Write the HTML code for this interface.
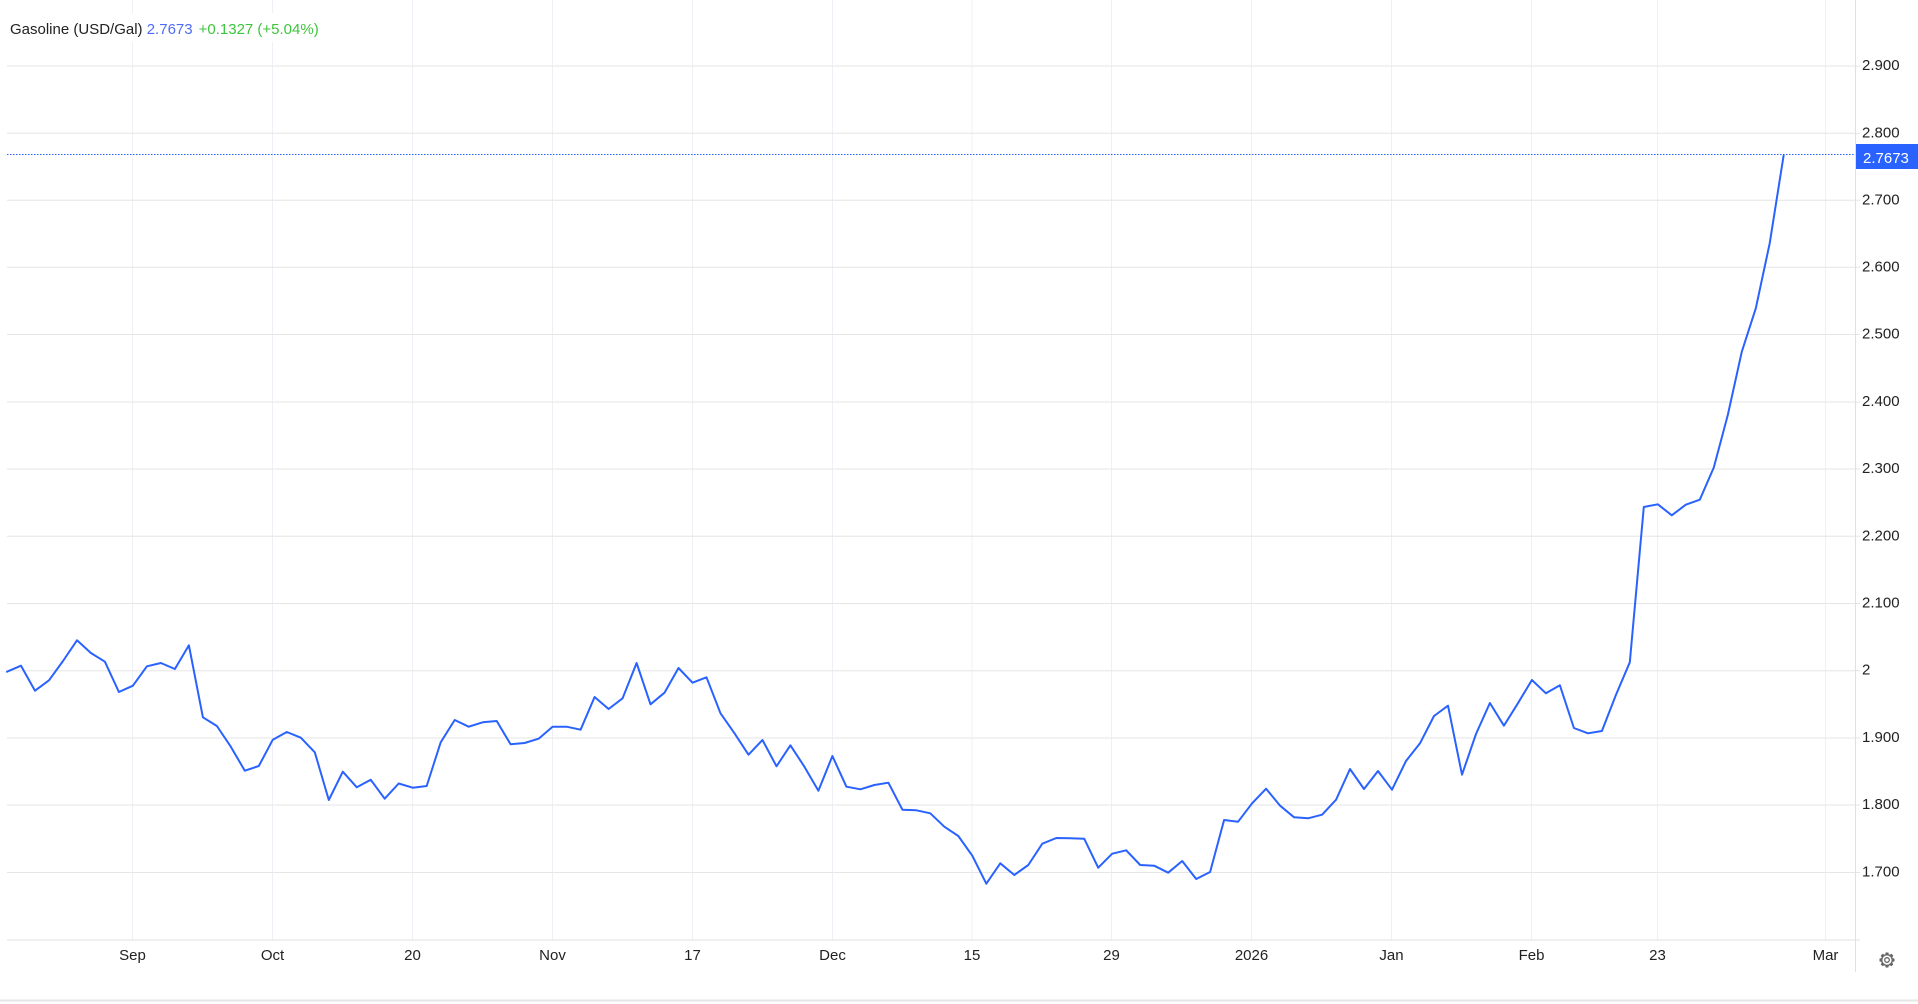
<!DOCTYPE html>
<html>
<head>
<meta charset="utf-8">
<style>
html,body{margin:0;padding:0;background:#fff;}
body{width:1918px;height:1004px;overflow:hidden;}
svg{display:block;}
text{font-family:"Liberation Sans",Arial,sans-serif;}
</style>
</head>
<body>
<svg width="1918" height="1004" viewBox="0 0 1918 1004" xmlns="http://www.w3.org/2000/svg">
<rect x="0" y="0" width="1918" height="1004" fill="#fff"/>
<!-- vertical gridlines -->
<g stroke="#edf1f5" stroke-width="1">
<line x1="132.5" y1="0" x2="132.5" y2="940"/>
<line x1="272.5" y1="0" x2="272.5" y2="940"/>
<line x1="412.5" y1="0" x2="412.5" y2="940"/>
<line x1="552.5" y1="0" x2="552.5" y2="940"/>
<line x1="692.5" y1="0" x2="692.5" y2="940"/>
<line x1="832.5" y1="0" x2="832.5" y2="940"/>
<line x1="972" y1="0" x2="972" y2="940"/>
<line x1="1111.5" y1="0" x2="1111.5" y2="940"/>
<line x1="1251.5" y1="0" x2="1251.5" y2="940"/>
<line x1="1391.5" y1="0" x2="1391.5" y2="940"/>
<line x1="1531.5" y1="0" x2="1531.5" y2="940"/>
<line x1="1657.5" y1="0" x2="1657.5" y2="940"/>
<line x1="1825.5" y1="0" x2="1825.5" y2="940"/>
</g>
<!-- horizontal gridlines -->
<g stroke="#e6e6e6" stroke-width="1">
<line x1="7" y1="66" x2="1860" y2="66"/>
<line x1="7" y1="133.3" x2="1860" y2="133.3"/>
<line x1="7" y1="200.3" x2="1860" y2="200.3"/>
<line x1="7" y1="267.3" x2="1860" y2="267.3"/>
<line x1="7" y1="334.5" x2="1860" y2="334.5"/>
<line x1="7" y1="402" x2="1860" y2="402"/>
<line x1="7" y1="469" x2="1860" y2="469"/>
<line x1="7" y1="536.3" x2="1860" y2="536.3"/>
<line x1="7" y1="603.5" x2="1860" y2="603.5"/>
<line x1="7" y1="670.7" x2="1860" y2="670.7"/>
<line x1="7" y1="738" x2="1860" y2="738"/>
<line x1="7" y1="805" x2="1860" y2="805"/>
<line x1="7" y1="872.5" x2="1860" y2="872.5"/>
</g>
<!-- axes -->
<line x1="7" y1="940" x2="1860" y2="940" stroke="#e0e0e0" stroke-width="1"/>
<line x1="1855.5" y1="0" x2="1855.5" y2="972" stroke="#e0e0e0" stroke-width="1"/>
<line x1="0" y1="1000.5" x2="1918" y2="1000.5" stroke="#e6e6e6" stroke-width="2"/>

<!-- title background -->
<rect x="7" y="13" width="325" height="29" fill="#fff"/>
<text x="10" y="34" font-size="15" fill="#222">Gasoline (USD/Gal) <tspan fill="#4f6bf6">2.7673</tspan><tspan fill="#3fc43f" dx="6">+0.1327 (+5.04%)</tspan></text>

<!-- price dotted line -->
<line x1="7" y1="154.5" x2="1855" y2="154.5" stroke="#2962ff" stroke-width="1" stroke-dasharray="1.5,1.5"/>

<!-- series -->
<polyline fill="none" stroke="#2962ff" stroke-width="2" stroke-linejoin="round" stroke-linecap="round" points="
7,671.7 21,665.7 35,690.7 49,680.3 63,661 77,640.3 90.9,653 104.9,661.7 118.9,692 132.9,685.7
146.9,666.3 160.9,663 174.9,669 188.9,645.3 202.9,717.3 216.9,726 230.8,746.7 244.8,770.7 258.8,766 272.8,739.7
286.8,732 300.8,737.7 314.8,752.3 328.8,800 342.8,771.7 356.8,787.3 370.7,779.7 384.7,798.7 398.7,783.5 412.7,787.7
426.7,786 440.7,742.3 454.7,720 468.7,726.7 482.7,722.3 496.7,721 510.6,744.3 524.6,743 538.6,738.7 552.6,726.7
566.6,726.7 580.6,729.7 594.6,697 608.6,709 622.6,698.3 636.6,663 650.5,704.3 664.5,692.7 678.5,668 692.5,682.7
706.5,677.3 720.5,713.3 734.5,733.3 748.5,754.7 762.5,740 776.5,766.3 790.4,745.3 804.4,766.7 818.4,790.7 832.4,756
846.4,786.7 860.4,789.3 874.4,785 888.4,782.7 902.4,809.7 916.4,810.3 930.3,813.3 944.3,826.7 958.3,836 972.3,855.7
986.3,883.7 1000.3,863.3 1014.3,875 1028.3,865 1042.3,843.7 1056.3,838 1070.2,838.3 1084.2,838.7 1098.2,867.7 1112.2,853.7
1126.2,850.3 1140.2,865 1154.2,865.7 1168.2,872.7 1182.2,861 1196.2,879 1210.1,872 1224.1,820 1238.1,821.7 1252.1,803.3
1266.1,788.7 1280.1,805.7 1294.1,817.3 1308.1,818.3 1322.1,814.7 1336.1,799.7 1350,769 1364,789 1378,771 1392,789.7
1406,761 1420,743.3 1434,716 1448,705.7 1462,774.7 1476,734 1489.9,703 1503.9,725.7 1517.9,703.3 1531.9,680
1545.9,693.3 1559.9,685.3 1573.9,728 1587.9,733.3 1601.9,731 1615.9,695 1629.8,662.3 1643.8,507 1657.8,504.3 1671.8,515.3
1685.8,504.7 1699.8,499.7 1713.8,467.5 1727.8,415 1741.8,351.7 1755.8,308.3 1769.7,243.3 1783.7,155"/>

<!-- y-axis labels -->
<g font-size="15" fill="#222">
<text x="1862" y="70">2.900</text>
<text x="1862" y="137.3">2.800</text>
<text x="1862" y="204.3">2.700</text>
<text x="1862" y="271.3">2.600</text>
<text x="1862" y="338.5">2.500</text>
<text x="1862" y="406">2.400</text>
<text x="1862" y="473">2.300</text>
<text x="1862" y="540.3">2.200</text>
<text x="1862" y="607.5">2.100</text>
<text x="1862" y="674.7">2</text>
<text x="1862" y="742">1.900</text>
<text x="1862" y="809">1.800</text>
<text x="1862" y="876.5">1.700</text>
</g>
<!-- price label -->
<rect x="1856" y="144" width="62" height="25" fill="#2962ff"/>
<text x="1863" y="163" font-size="15" fill="#fff">2.7673</text>

<!-- x-axis labels -->
<g font-size="15" fill="#222" text-anchor="middle">
<text x="132.5" y="960">Sep</text>
<text x="272.5" y="960">Oct</text>
<text x="412.5" y="960">20</text>
<text x="552.5" y="960">Nov</text>
<text x="692.5" y="960">17</text>
<text x="832.5" y="960">Dec</text>
<text x="972" y="960">15</text>
<text x="1111.5" y="960">29</text>
<text x="1251.5" y="960">2026</text>
<text x="1391.5" y="960">Jan</text>
<text x="1531.5" y="960">Feb</text>
<text x="1657.5" y="960">23</text>
<text x="1825.5" y="960">Mar</text>
</g>

<!-- gear icon -->
<g transform="translate(1887,960)">
<g fill="#666">
<rect x="-1.6" y="-7.5" width="3.2" height="15" rx="0.6"/>
<rect x="-1.6" y="-7.5" width="3.2" height="15" rx="0.6" transform="rotate(45)"/>
<rect x="-1.6" y="-7.5" width="3.2" height="15" rx="0.6" transform="rotate(90)"/>
<rect x="-1.6" y="-7.5" width="3.2" height="15" rx="0.6" transform="rotate(135)"/>
<circle r="6"/>
</g>
<circle r="4.6" fill="#fff"/>
<circle r="2.3" fill="none" stroke="#666" stroke-width="1.3"/>
</g>
</svg>
</body>
</html>
